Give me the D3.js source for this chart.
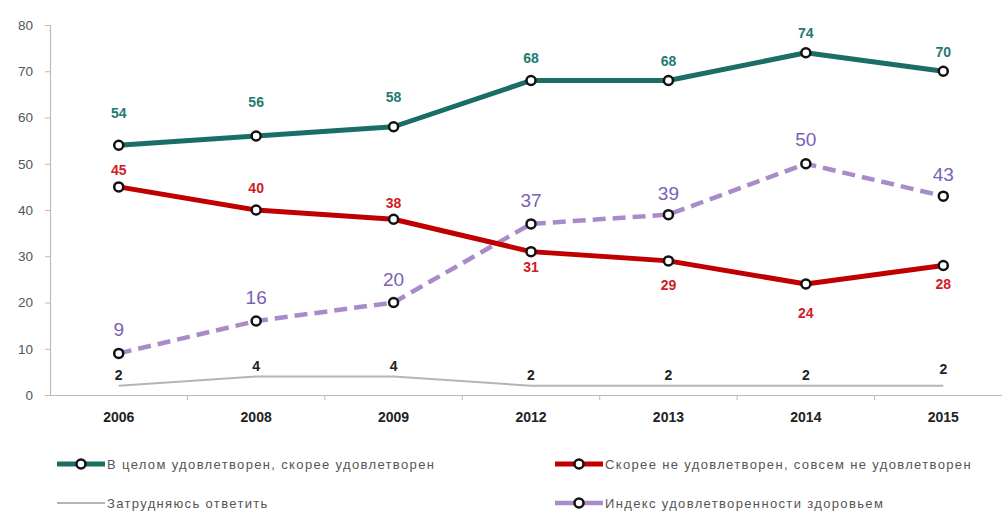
<!DOCTYPE html>
<html><head><meta charset="utf-8">
<script src="https://cdn.jsdelivr.net/npm/d3@7"></script>
<style>body{margin:0;background:#fff}svg{display:block;font-family:"Liberation Sans",Arial,sans-serif}</style>
</head><body><svg id="c" width="1002" height="511"></svg>
<script>
const years = ["2006","2008","2009","2012","2013","2014","2015"];
const satisfied = [54,56,58,68,68,74,70];
const dissatisfied = [45,40,38,31,29,24,28];
const hardToSay = [2,4,4,2,2,2,2];
const healthIndex = [9,16,20,37,39,50,43];
const yTicks = [0,10,20,30,40,50,60,70,80];
const seriesNames = ["В целом удовлетворен, скорее удовлетворен","Скорее не удовлетворен, совсем не удовлетворен","Затрудняюсь ответить","Индекс удовлетворенности здоровьем"];

const svg = d3.select("#c");
const x = d3.scaleBand().domain(years).range([50, 1012]);
const y = d3.scaleLinear().domain([0,80]).range([395, 25]);
const cx = d => x(d) + x.bandwidth()/2;

// y axis
const ya = svg.append("g").attr("transform","translate(50,0)")
  .call(d3.axisLeft(y).tickValues(yTicks).tickSize(5).tickPadding(12));
ya.select(".domain").attr("stroke","#bbb").attr("stroke-width",1.2);
ya.selectAll(".tick line").attr("stroke","#bbb");
ya.selectAll("text").attr("fill","#555").style("font-size","13.5px");

// x axis
const xa = svg.append("g").attr("transform","translate(0,395)")
  .call(d3.axisBottom(x).tickSize(0).tickPadding(17));
xa.select(".domain").attr("stroke","#bbb").attr("stroke-width",1.2);
xa.selectAll("text").attr("fill","#222").style("font-size","14px").style("font-weight","bold");
svg.append("g").selectAll("line").data(years.slice(1)).join("line")
  .attr("x1",d=>x(d)).attr("x2",d=>x(d)).attr("y1",395).attr("y2",400).attr("stroke","#bbb");

const line = d3.line().x((d,i)=>cx(years[i])).y(d=>y(d));

function drawSeries(vals, opt){
  svg.append("path").datum(vals).attr("d",line).attr("fill","none")
    .attr("stroke",opt.color).attr("stroke-width",opt.width)
    .attr("stroke-dasharray",opt.dash||null).attr("stroke-linejoin","round");
  if(opt.markers){
    svg.append("g").selectAll("circle").data(vals).join("circle")
      .attr("cx",(d,i)=>cx(years[i])).attr("cy",d=>y(d)).attr("r",4.5)
      .attr("fill","#fff").attr("stroke","#111").attr("stroke-width",2.5);
  }
  svg.append("g").selectAll("text").data(vals).join("text")
    .attr("x",(d,i)=>cx(years[i])).attr("y",(d,i)=>y(d)+opt.off[i])
    .attr("text-anchor","middle").attr("fill",opt.label)
    .style("font-size",opt.fs+"px").style("font-weight",opt.bold?"bold":"normal")
    .text(d=>d);
}

drawSeries(hardToSay,{color:"#b5b5b5",width:2,markers:false,label:"#222",fs:14,bold:true,off:[-6,-6,-6,-6,-6,-6,-12]});
drawSeries(healthIndex,{color:"#a98bc9",width:4.5,dash:"13,7",markers:true,label:"#7a5fb8",fs:19,bold:false,off:[-17,-17,-17,-17,-15,-18,-15]});
drawSeries(dissatisfied,{color:"#c00000",width:5,markers:true,label:"#d01c24",fs:14,bold:true,off:[-12,-17,-11,20,29,34,23]});
drawSeries(satisfied,{color:"#1a6e66",width:5,markers:true,label:"#1f7a72",fs:14,bold:true,off:[-27,-29,-25,-18,-15,-15,-14]});

// legend
const leg = [
  {name:seriesNames[0],color:"#1a6e66",w:5,m:true,x:57,y:464},
  {name:seriesNames[1],color:"#c00000",w:5,m:true,x:555,y:464},
  {name:seriesNames[2],color:"#b5b5b5",w:2,m:false,x:57,y:503},
  {name:seriesNames[3],color:"#a98bc9",w:4.5,m:true,x:555,y:503}
];
const lg = svg.append("g").selectAll("g").data(leg).join("g").attr("transform",d=>`translate(${d.x},${d.y})`);
lg.append("line").attr("x1",0).attr("x2",48).attr("y1",0).attr("y2",0)
  .attr("stroke",d=>d.color).attr("stroke-width",d=>d.w);
lg.filter(d=>d.m).append("circle").attr("cx",24).attr("cy",0).attr("r",4.5)
  .attr("fill","#fff").attr("stroke","#111").attr("stroke-width",2.5);
lg.append("text").attr("x",50).attr("y",4.5).attr("fill","#555").style("font-size","13px")
  .style("letter-spacing","1.35px").text(d=>d.name);
</script></body></html>
